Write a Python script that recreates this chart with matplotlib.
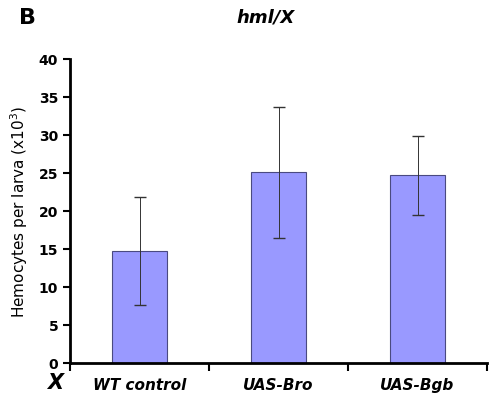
import matplotlib.pyplot as plt
import numpy as np

categories = ['WT control', 'UAS-Bro', 'UAS-Bgb']
values = [14.7, 25.1, 24.7]
errors = [7.1, 8.6, 5.2]
yticks = [0, 5, 10, 15, 20, 25, 30, 35, 40]

fig = plt.figure(figsize=(4.91, 4.10), dpi=100)
ax = fig.add_axes([0.1426, 0.1122, 0.8494, 0.7415])

x = np.arange(len(categories))
ax.bar(x, values, width=0.4, color='#9999ff', edgecolor='#4a4a80', linewidth=0.8,
       yerr=errors, error_kw=dict(ecolor='#333333', elinewidth=0.7, capsize=4, capthick=1.0))

ax.set_xlim(-0.5, 2.5)
ax.set_ylim(0, 40)
ax.set_yticks(yticks)
ax.set_yticklabels([str(t) for t in yticks], fontweight='bold', fontsize=10)
ax.set_xticks([-0.5, 0.5, 1.5, 2.5])
ax.set_xticklabels([])
ax.set_xticks(x, minor=True)
ax.set_xticklabels(categories, minor=True, fontweight='bold', fontstyle='italic', fontsize=11)
ax.tick_params(axis='x', which='minor', length=0, pad=10)
ax.tick_params(axis='x', which='major', direction='out', length=6, width=1.5)
ax.tick_params(axis='y', direction='out', length=5, width=1.5)
for side in ['top', 'right']:
    ax.spines[side].set_visible(False)
for side in ['left', 'bottom']:
    ax.spines[side].set_linewidth(2)

ax.set_ylabel('Hemocytes per larva (x10$^3$)', fontsize=11, labelpad=6)

fig.text(0.54, 0.958, 'hml/X', fontweight='bold', fontstyle='italic', fontsize=13, va='center', ha='center')
fig.text(0.057, 0.955, 'B', fontsize=16, fontweight='bold', va='center', ha='center')
fig.text(0.112, 0.066, 'X', fontsize=15, fontweight='bold', fontstyle='italic', va='center', ha='center')

fig.savefig('out.png', dpi=100)
